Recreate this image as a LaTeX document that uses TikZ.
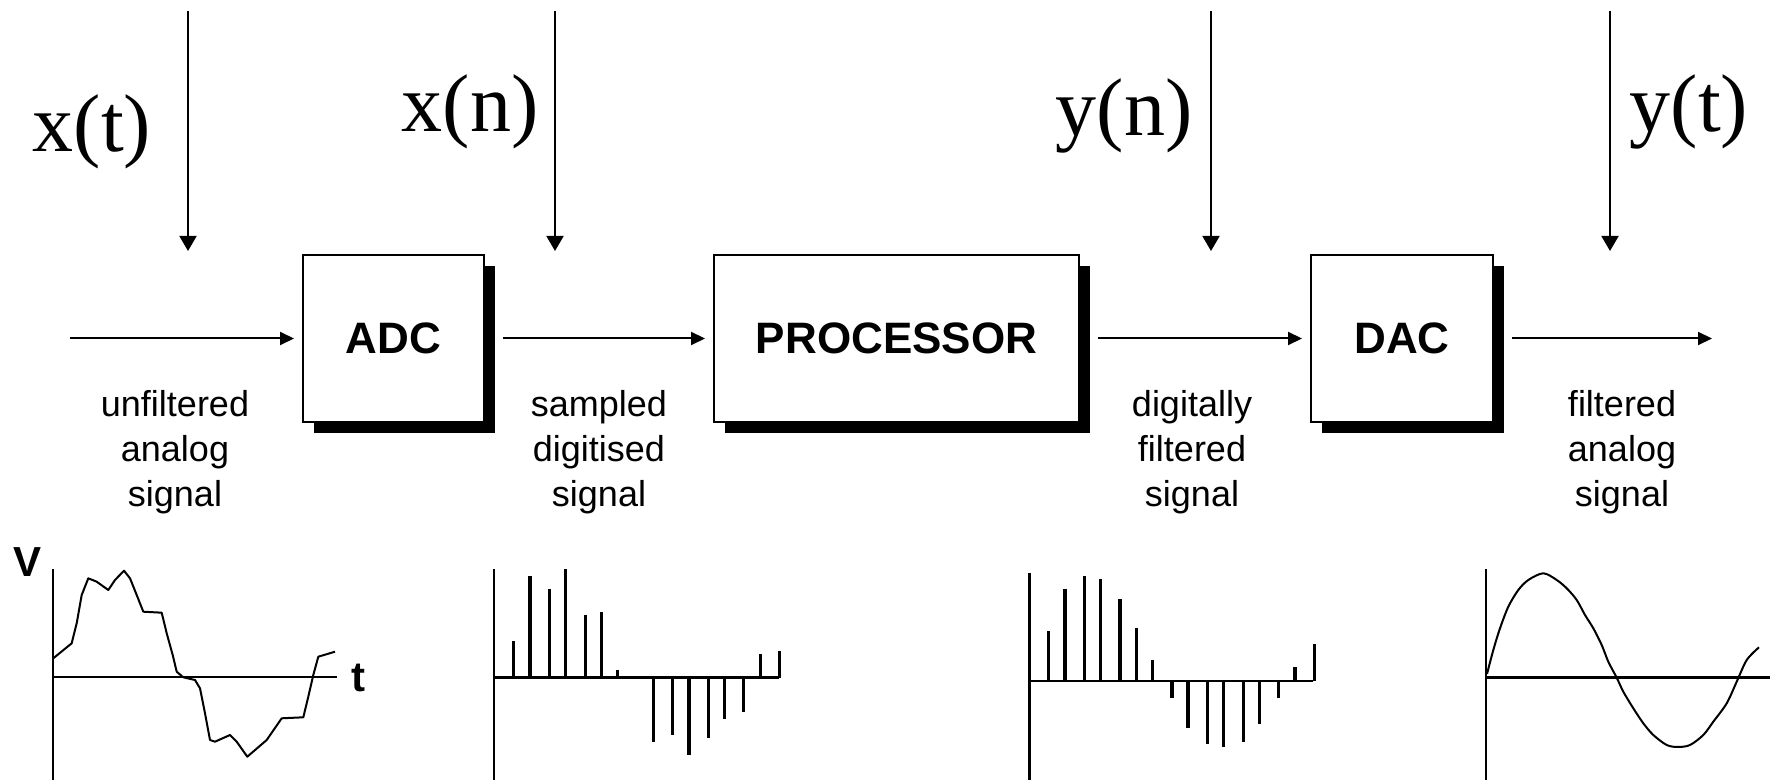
\documentclass[tikz,border=0pt]{standalone}
\usepackage{fontspec}
\setmainfont{Liberation Serif}
\setsansfont{Liberation Sans}
\usepackage{tikz}
\usetikzlibrary{positioning,arrows.meta,shadows}
\tikzset{
  block/.style={draw, line width=1pt, fill=white, minimum height=83.5pt, inner sep=0pt,
                font=\sffamily\bfseries\fontsize{22}{22}\selectfont,
                drop shadow={shadow xshift=5.5pt, shadow yshift=-5.5pt, fill=black, opacity=1}},
  flow/.style={-{Triangle[length=7pt,width=6.5pt]}, line width=1pt, shorten <=9pt, shorten >=4pt},
  probe/.style={-{Triangle[length=7.5pt,width=8.5pt]}, line width=0.9pt},
  sig/.style={anchor=base, inner sep=0pt, font=\fontsize{41}{41}\selectfont},
  note/.style={align=center, inner sep=0pt, font=\sffamily\fontsize{18}{22.5}\selectfont},
  axisline/.style={line width=1.4pt},
  trace/.style={line width=1pt, line join=round},
  stem/.style={line width=1.7pt},
  ticklbl/.style={inner sep=0pt, font=\sffamily\bfseries\fontsize{21}{21}\selectfont}
}

\begin{document}
\begin{tikzpicture}[x=0.5pt, y=-0.5pt, node distance=114pt]
        \useasboundingbox (0,0) rectangle (1772,780);
        % signal chain
        \node[block, minimum width=90.5pt] (adc) at (393.5,338.5) {ADC};
        \node[block, minimum width=182.5pt, right=of adc] (proc) {PROCESSOR};
        \node[block, minimum width=91pt, right=115pt of proc] (dac) {DAC};
        \coordinate (src) at (70,338.5);
        \coordinate (sink) at (1712,338.5);
        \draw[flow, shorten <=0pt] (src) -- (adc);
        \draw[flow] (adc) -- (proc);
        \draw[flow] (proc) -- (dac);
        \draw[flow, shorten >=0pt] (dac) -- (sink);
        % signal names
        \node[sig] (xt) at (92,152) {x(t)};
        \node[sig] (xn) at (470,132) {x(n)};
        \node[sig] (yn) at (1124,136) {y(n)};
        \node[sig] (yt) at (1689,132) {y(t)};
        \coordinate (xt0) at (188,11);  \coordinate (xt1) at (188,251);
        \coordinate (xn0) at (555,11);  \coordinate (xn1) at (555,251);
        \coordinate (yn0) at (1211,11); \coordinate (yn1) at (1211,251);
        \coordinate (yt0) at (1610,11); \coordinate (yt1) at (1610,251);
        \draw[probe] (xt0) -- (xt1); \draw[probe] (xn0) -- (xn1);
        \draw[probe] (yn0) -- (yn1); \draw[probe] (yt0) -- (yt1);
        \node[note] (n1) at (175,452.5) {unfiltered\\analog\\signal};
        \node[note] (n2) at (599,452.5) {sampled\\digitised\\signal};
        \node[note] (n3) at (1192,452.5) {digitally\\filtered\\signal};
        \node[note] (n4) at (1622,452.5) {filtered\\analog\\signal};
        % unfiltered analog signal
        \draw[axisline] (53,569) -- (53,780) (53,677) -- (337,677);
        \draw[trace] (53.3,658.3) -- (71.7,643.3) -- (76.7,623.3) -- (81.7,595) -- (88.3,578.3)
          -- (96.7,581.7) -- (108.3,590) -- (115,580) -- (124,570.7) -- (130,578.3)
          -- (136.7,595) -- (143.3,611.7) -- (161.7,612.7) -- (166.7,633.3) -- (172.7,655)
          -- (176.7,671.7) -- (183.3,677.3) -- (195,680) -- (200,688.3) -- (205,713.3)
          -- (210,740) -- (215,741.7) -- (230,735) -- (236.7,741.7) -- (247.3,756.7)
          -- (266.7,740) -- (281.7,718.3) -- (303.3,717.3) -- (308.3,696.7) -- (313.3,675)
          -- (318.3,656.7) -- (335,651.7);
        \node[ticklbl] (vlbl) at (28,562) {V};
        \node[ticklbl] (tlbl) at (358,678) {t};
        % sampled signal
        \draw[axisline] (494,569) -- (494,780) (494,677.7) -- (779,677.7);
        \draw[stem] (513.3,677.7) -- (513.3,641) (530,677.7) -- (530,576)
          (549.3,677.7) -- (549.3,589) (565.3,677.7) -- (565.3,569.3)
          (585.3,677.7) -- (585.3,615) (601.3,677.7) -- (601.3,612)
          (617.3,677.7) -- (617.3,670) (653.3,677.7) -- (653.3,741.7)
          (672.3,677.7) -- (672.3,735) (689,677.7) -- (689,755)
          (708.3,677.7) -- (708.3,737.7) (724.3,677.7) -- (724.3,719)
          (743.7,677.7) -- (743.7,711.7) (760.3,677.7) -- (760.3,654)
          (779.3,677.7) -- (779.3,651);
        % filtered samples
        \draw[axisline] (1029.3,573) -- (1029.3,780) (1029.3,681) -- (1313,681);
        \draw[stem] (1048.3,681) -- (1048.3,631) (1065,681) -- (1065,589.3)
          (1084.3,681) -- (1084.3,576) (1100.3,681) -- (1100.3,579.3)
          (1120,681) -- (1120,599.3) (1136.3,681) -- (1136.3,628.3)
          (1152.3,681) -- (1152.3,660) (1172,681) -- (1172,698.3)
          (1188,681) -- (1188,728.3) (1207.3,681) -- (1207.3,744.3)
          (1223.3,681) -- (1223.3,747.3) (1243.3,681) -- (1243.3,741.7)
          (1259.3,681) -- (1259.3,724.3) (1278.7,681) -- (1278.7,698.3)
          (1295,681) -- (1295,667.3) (1314.3,681) -- (1314.3,644.3);
        % filtered analog signal
        \draw[axisline] (1486,569) -- (1486,780) (1486,677.7) -- (1770,677.7);
        \draw[trace] plot[smooth] coordinates {(1487,674) (1493.3,650) (1500,628.3)
          (1508.3,606.7) (1518.3,590) (1528.3,580) (1543.3,573.3) (1556.7,580)
          (1566.7,588.3) (1576.7,600) (1585,615) (1593.3,628.3) (1601.7,645)
          (1608.3,661.7) (1616.7,677.7) (1623.3,691.7) (1633.3,708.3) (1643.3,723.3)
          (1653.3,735) (1666.7,745) (1678,747) (1690,745) (1703.3,735) (1713.3,721.7)
          (1726.7,703.3) (1736.7,681.7) (1746.7,660) (1759,647.3)};
      \end{tikzpicture}
\end{document}
